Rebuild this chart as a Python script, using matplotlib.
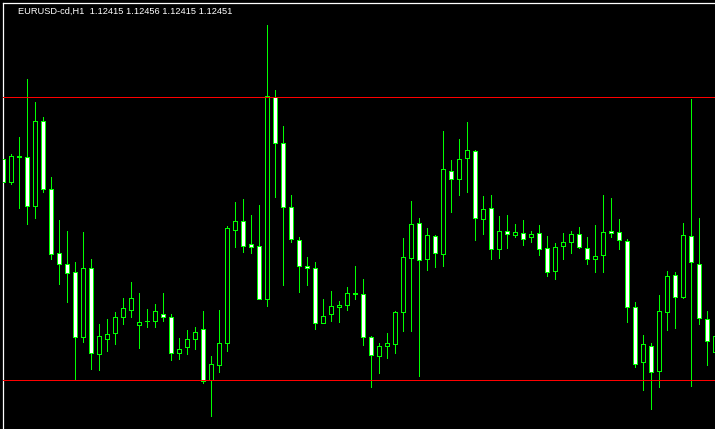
import matplotlib
matplotlib.use("Agg")
import matplotlib.pyplot as plt
from matplotlib.patches import Rectangle

# EURUSD-cd H1 candles, oldest first (last one is still forming)
opens = [
    1.12854, 1.12801, 1.12858, 1.12858, 1.12746, 1.12942, 1.12787, 1.12639, 1.12616, 1.12596,
    1.12448, 1.12605, 1.12409, 1.12445, 1.12457, 1.12493, 1.12509, 1.12475, 1.12486, 1.12485,
    1.12502, 1.12493, 1.12413, 1.12425, 1.12445, 1.12466, 1.12350, 1.12384, 1.12434, 1.12692,
    1.12712, 1.12660, 1.12657, 1.12534, 1.12995, 1.12890, 1.12744, 1.12669, 1.12610, 1.12605,
    1.12480, 1.12500, 1.12516, 1.12521, 1.12548, 1.12546, 1.12448, 1.12404, 1.12429, 1.12432,
    1.12505, 1.12628, 1.12708, 1.12626, 1.12678, 1.12637, 1.12828, 1.12808, 1.12856, 1.12872,
    1.12717, 1.12742, 1.12648, 1.12689, 1.12680, 1.12685, 1.12676, 1.12685, 1.12651, 1.12598,
    1.12655, 1.12664, 1.12683, 1.12651, 1.12626, 1.12635, 1.12689, 1.12687, 1.12667, 1.12516,
    1.12391, 1.12429, 1.12370, 1.12505, 1.12589, 1.12540, 1.12678, 1.12616, 1.12489, 1.12415,
]
highs = [
    1.12882, 1.12865, 1.12904, 1.13037, 1.12984, 1.12950, 1.12813, 1.12715, 1.12690, 1.12619,
    1.12688, 1.12626, 1.12478, 1.12489, 1.12505, 1.12537, 1.12574, 1.12549, 1.12512, 1.12524,
    1.12549, 1.12501, 1.12446, 1.12464, 1.12471, 1.12508, 1.12405, 1.12510, 1.12702, 1.12756,
    1.12763, 1.12727, 1.12749, 1.13160, 1.13012, 1.12930, 1.12772, 1.12676, 1.12631, 1.12619,
    1.12535, 1.12553, 1.12531, 1.12562, 1.12610, 1.12581, 1.12451, 1.12435, 1.12458, 1.12508,
    1.12674, 1.12759, 1.12720, 1.12697, 1.12681, 1.12918, 1.12852, 1.12900, 1.12939, 1.12875,
    1.12770, 1.12772, 1.12724, 1.12727, 1.12706, 1.12715, 1.12690, 1.12704, 1.12679, 1.12663,
    1.12686, 1.12690, 1.12699, 1.12676, 1.12704, 1.12772, 1.12765, 1.12717, 1.12671, 1.12528,
    1.12453, 1.12435, 1.12544, 1.12599, 1.12597, 1.12708, 1.12991, 1.12720, 1.12508, 1.12456,
]
lows = [
    1.12789, 1.12798, 1.12742, 1.12707, 1.12720, 1.12778, 1.12627, 1.12570, 1.12529, 1.12351,
    1.12438, 1.12376, 1.12374, 1.12417, 1.12433, 1.12477, 1.12493, 1.12424, 1.12472, 1.12472,
    1.12486, 1.12397, 1.12399, 1.12410, 1.12420, 1.12344, 1.12269, 1.12369, 1.12417, 1.12654,
    1.12643, 1.12641, 1.12536, 1.12518, 1.12768, 1.12568, 1.12664, 1.12552, 1.12568, 1.12467,
    1.12480, 1.12486, 1.12483, 1.12511, 1.12534, 1.12431, 1.12335, 1.12367, 1.12401, 1.12413,
    1.12461, 1.12463, 1.12360, 1.12602, 1.12609, 1.12611, 1.12734, 1.12773, 1.12778, 1.12670,
    1.12684, 1.12627, 1.12629, 1.12652, 1.12676, 1.12659, 1.12666, 1.12636, 1.12588, 1.12581,
    1.12627, 1.12641, 1.12651, 1.12616, 1.12597, 1.12597, 1.12676, 1.12648, 1.12483, 1.12381,
    1.12328, 1.12285, 1.12335, 1.12465, 1.12470, 1.12538, 1.12337, 1.12477, 1.12385, 1.12415,
]
closes = [
    1.12801, 1.12860, 1.12860, 1.12748, 1.12942, 1.12787, 1.12638, 1.12614, 1.12594, 1.12448,
    1.12605, 1.12411, 1.12450, 1.12455, 1.12493, 1.12514, 1.12537, 1.12482, 1.12486, 1.12507,
    1.12493, 1.12411, 1.12420, 1.12445, 1.12459, 1.12347, 1.12386, 1.12434, 1.12696, 1.12714,
    1.12657, 1.12653, 1.12536, 1.12997, 1.12890, 1.12744, 1.12671, 1.12610, 1.12605, 1.12480,
    1.12496, 1.12518, 1.12521, 1.12548, 1.12546, 1.12448, 1.12407, 1.12429, 1.12434, 1.12505,
    1.12630, 1.12705, 1.12623, 1.12680, 1.12639, 1.12831, 1.12808, 1.12854, 1.12874, 1.12719,
    1.12740, 1.12648, 1.12689, 1.12683, 1.12687, 1.12673, 1.12683, 1.12648, 1.12596, 1.12653,
    1.12664, 1.12683, 1.12653, 1.12626, 1.12632, 1.12687, 1.12685, 1.12669, 1.12516, 1.12388,
    1.12432, 1.12368, 1.12507, 1.12587, 1.12539, 1.12680, 1.12619, 1.12491, 1.12439, 1.12451,
]
levels = [1.12995, 1.12350]  # horizontal lines
title = "EURUSD-cd,H1  1.12415 1.12456 1.12415 1.12451"

GREEN = "#00ff00"
W, H = 715, 429

fig = plt.figure(figsize=(W / 100, H / 100), dpi=100, facecolor="black")
ax = fig.add_axes([2.5 / W, 0, (W - 2.5) / W, (H - 2.5) / H], facecolor="black")

for i, (o, h, l, c) in enumerate(zip(opens, highs, lows, closes)):
    ax.vlines(i, l, h, color=GREEN, lw=0.5, antialiased=False, zorder=2)
    face = "black" if c >= o else "white"
    ax.add_patch(Rectangle((i - 0.25, min(o, c)), 0.5, abs(c - o),
                           facecolor=face, edgecolor=GREEN, lw=0.5,
                           antialiased=False, zorder=3))

for lv in levels:
    ax.axhline(lv, color="#ff0000", lw=0.5, antialiased=False, zorder=4)

ax.set_xlim(-0.104, 88.96)
ax.set_ylim(1.122387, 1.132111)
ax.set_xticks([])
ax.set_yticks([])
for side in ("right", "bottom"):
    ax.spines[side].set_visible(False)
for side in ("left", "top"):
    ax.spines[side].set_color("white")
    ax.spines[side].set_linewidth(0.9)

fig.text(18 / W, 1 - 11 / H, title, color="white", fontsize=6.7,
         family="Liberation Sans", va="center", ha="left")

fig.savefig("out.png", dpi=100, facecolor="black")
